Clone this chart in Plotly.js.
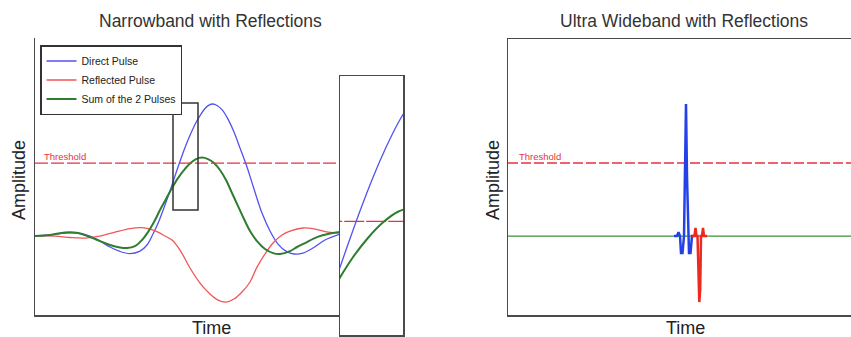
<!DOCTYPE html>
<html>
<head>
<meta charset="utf-8">
<script src="https://cdn.plot.ly/plotly-3.0.1.min.js"></script>
<style>html,body{margin:0;padding:0;background:#fff;}#chart{width:851px;height:337px;}</style>
</head>
<body>
<div id="chart"></div>
<script>
// ---------- Narrowband (left panel) ----------
const nbBlueT  = [0, 15, 30, 43, 55, 65, 75, 85, 95, 105, 112, 118, 124, 130, 136, 141, 146, 151, 156, 161, 166, 170, 174, 178, 182, 187, 193, 199, 205, 212, 219, 227, 235, 243, 251, 259, 268, 278, 290, 305];
const nbBlueA  = [0, 0.008, 0.023, 0.023, 0, -0.038, -0.083, -0.117, -0.133, -0.114, -0.068, 0.015, 0.114, 0.235, 0.364, 0.477, 0.587, 0.689, 0.780, 0.860, 0.924, 0.966, 0.992, 1.0, 0.989, 0.958, 0.886, 0.788, 0.667, 0.523, 0.356, 0.174, 0.038, -0.061, -0.114, -0.136, -0.129, -0.091, -0.030, 0.015];

const nbRedT   = [0, 20, 35, 50, 65, 80, 95, 107, 115, 123, 130, 137, 145, 155, 165, 175, 183, 191, 199, 207, 215, 222, 230, 238, 247, 255, 268, 280, 293, 305];
const nbRedA   = [0, 0, -0.011, -0.015, 0, 0.030, 0.057, 0.064, 0.053, 0.030, 0, -0.030, -0.106, -0.242, -0.356, -0.439, -0.485, -0.5, -0.477, -0.424, -0.348, -0.235, -0.136, -0.053, 0.008, 0.038, 0.061, 0.053, 0.030, 0.023];

const nbSumT   = [0, 15, 30, 43, 55, 65, 75, 85, 92, 100, 107, 113, 119, 125, 131, 137, 143, 149, 155, 161, 167, 173, 179, 185, 191, 197, 203, 209, 215, 222, 230, 238, 245, 255, 262, 270, 282, 293, 305];
const nbSumA   = [0, 0.008, 0.027, 0.023, -0.008, -0.038, -0.068, -0.087, -0.091, -0.076, -0.030, 0.030, 0.106, 0.197, 0.280, 0.364, 0.439, 0.500, 0.549, 0.583, 0.595, 0.583, 0.553, 0.500, 0.424, 0.326, 0.227, 0.129, 0.038, -0.038, -0.098, -0.129, -0.136, -0.114, -0.083, -0.053, -0.008, 0.015, 0.030];

const nbThreshT = [0, 305];
const nbThreshA = [0.553, 0.553];

// zoom window (small rectangle / magnified inset)
const zoomT = [138, 163];
const zoomA = [0.197, 1.008];

// ---------- Ultra wideband (right panel) ----------
const uwbSumT  = [0, 104, 105, 287, 288, 343];
const uwbSumA  = [0, 0, 0.005, 0.005, 0, 0];

const uwbBlueT = [166, 169, 170.5, 172, 173, 174.5, 176, 177, 178, 179, 180, 181, 182.5, 184, 186];
const uwbBlueA = [0, 0, 0.03, 0, -0.129, -0.129, 0, 0.45, 1.0, 0.45, 0, -0.129, -0.129, 0, 0];

const uwbRedT  = [184, 186.5, 187.5, 188.5, 189.5, 190.5, 191.3, 192.2, 193, 194, 195, 196, 199];
const uwbRedA  = [0, 0, 0.061, 0, 0, -0.409, -0.5, -0.409, 0, 0, 0.061, 0, 0];

const uwbThreshT = [0, 343];
const uwbThreshA = [0.553, 0.553];

const seriesNames = ['Direct Pulse', 'Reflected Pulse', 'Sum of the 2 Pulses'];
const panelTitles = ['Narrowband with Reflections', 'Ultra Wideband with Reflections'];

const FONT = 'Liberation Sans, Arial, sans-serif';
const cBlue = '#5252f2', cRed = '#f25555', cGreen = '#2f7d2f', cThr = '#e8323c';
const cBlue2 = '#2341e6', cRed2 = '#ec2a22', cGreen2 = '#3a913a';

const traces = [
  {x: nbBlueT, y: nbBlueA, name: seriesNames[0], mode: 'lines', line: {color: cBlue, width: 1.3, shape: 'spline'}, xaxis: 'x', yaxis: 'y'},
  {x: nbRedT, y: nbRedA, name: seriesNames[1], mode: 'lines', line: {color: cRed, width: 1.3, shape: 'spline'}, xaxis: 'x', yaxis: 'y'},
  {x: nbSumT, y: nbSumA, name: seriesNames[2], mode: 'lines', line: {color: cGreen, width: 2, shape: 'spline'}, xaxis: 'x', yaxis: 'y'},
  {x: nbThreshT, y: nbThreshA, mode: 'lines', showlegend: false, line: {color: cThr, width: 1.3, dash: '13px,3px'}, xaxis: 'x', yaxis: 'y'},
  // inset (magnified view of the rectangle)
  {x: nbThreshT, y: nbThreshA, mode: 'lines', showlegend: false, line: {color: cThr, width: 1.3, dash: '20px,2px'}, xaxis: 'x3', yaxis: 'y3'},
  {x: nbBlueT, y: nbBlueA, mode: 'lines', showlegend: false, line: {color: cBlue, width: 1.3, shape: 'spline'}, xaxis: 'x3', yaxis: 'y3'},
  {x: nbSumT, y: nbSumA, mode: 'lines', showlegend: false, line: {color: cGreen, width: 2, shape: 'spline'}, xaxis: 'x3', yaxis: 'y3'},
  // UWB
  {x: uwbThreshT, y: uwbThreshA, mode: 'lines', showlegend: false, line: {color: cThr, width: 1.3, dash: '10px,3px'}, xaxis: 'x2', yaxis: 'y2'},
  {x: uwbSumT, y: uwbSumA, mode: 'lines', showlegend: false, line: {color: cGreen2, width: 1.2}, xaxis: 'x2', yaxis: 'y2'},
  {x: uwbBlueT, y: uwbBlueA, mode: 'lines', showlegend: false, line: {color: cBlue2, width: 2.5}, xaxis: 'x2', yaxis: 'y2'},
  {x: uwbRedT, y: uwbRedA, mode: 'lines', showlegend: false, line: {color: cRed2, width: 2.5}, xaxis: 'x2', yaxis: 'y2'}
];

const W = 851, H = 337;
const px = v => v / W, py = v => 1 - v / H;
const axLine = '#4a4a4a';
const bareAx = {showgrid: false, zeroline: false, showticklabels: false, ticks: '', fixedrange: true};

const layout = {
  width: W, height: H,
  margin: {l: 0, r: 0, t: 0, b: 0},
  paper_bgcolor: '#fff', plot_bgcolor: '#fff',
  hovermode: false,
  font: {family: FONT, color: '#333'},
  showlegend: true,
  legend: {x: px(40), y: py(45), xanchor: 'left', yanchor: 'top', bgcolor: '#fff',
           bordercolor: '#333', borderwidth: 1.5, font: {size: 10.5, family: FONT, color: '#222'},
           tracegroupgap: 0, itemwidth: 30},
  xaxis:  Object.assign({}, bareAx, {domain: [px(35), px(340)], range: [0, 305], showline: true, linecolor: axLine, linewidth: 1.5}),
  yaxis:  Object.assign({}, bareAx, {domain: [py(315), py(38)], range: [-0.598, 1.5], showline: true, linecolor: axLine, linewidth: 1.5}),
  xaxis2: Object.assign({}, bareAx, {domain: [px(508), 1], range: [0, 343], showline: true, mirror: true, linecolor: axLine, linewidth: 1.5, anchor: 'y2'}),
  yaxis2: Object.assign({}, bareAx, {domain: [py(315), py(39)], range: [-0.598, 1.492], showline: true, linecolor: axLine, linewidth: 1.5, anchor: 'x2'}),
  xaxis3: Object.assign({}, bareAx, {domain: [px(340), px(403)], range: zoomT, showline: true, mirror: true, linecolor: axLine, linewidth: 1.5, anchor: 'y3'}),
  yaxis3: Object.assign({}, bareAx, {domain: [py(335), py(76)], range: zoomA, showline: true, mirror: true, linecolor: axLine, linewidth: 1.5, anchor: 'x3'}),
  shapes: [
    {type: 'rect', xref: 'x', yref: 'y', x0: zoomT[0], x1: zoomT[1], y0: zoomA[0], y1: zoomA[1],
     line: {color: '#333', width: 1.5}, fillcolor: 'rgba(0,0,0,0)'}
  ],
  annotations: [
    {text: panelTitles[0], xref: 'paper', yref: 'paper', x: px(210), y: py(21), xanchor: 'center', yanchor: 'middle', showarrow: false, font: {size: 17.5, color: '#333'}},
    {text: panelTitles[1], xref: 'paper', yref: 'paper', x: px(684), y: py(21), xanchor: 'center', yanchor: 'middle', showarrow: false, font: {size: 17.5, color: '#333'}},
    {text: 'Amplitude', xref: 'paper', yref: 'paper', x: px(19), y: py(180), xanchor: 'center', yanchor: 'middle', textangle: -90, showarrow: false, font: {size: 18, color: '#222'}},
    {text: 'Amplitude', xref: 'paper', yref: 'paper', x: px(493), y: py(180), xanchor: 'center', yanchor: 'middle', textangle: -90, showarrow: false, font: {size: 18, color: '#222'}},
    {text: 'Time', xref: 'paper', yref: 'paper', x: px(211), y: 0, xanchor: 'center', yanchor: 'bottom', yshift: -3, showarrow: false, font: {size: 18, color: '#222'}},
    {text: 'Time', xref: 'paper', yref: 'paper', x: px(685), y: 0, xanchor: 'center', yanchor: 'bottom', yshift: -3, showarrow: false, font: {size: 18, color: '#222'}},
    {text: 'Threshold', xref: 'x', yref: 'y', x: 7, y: nbThreshA[0], xanchor: 'left', yanchor: 'bottom', yshift: -1, showarrow: false, font: {size: 9.5, color: cThr}},
    {text: 'Threshold', xref: 'x2', yref: 'y2', x: 9, y: uwbThreshA[0], xanchor: 'left', yanchor: 'bottom', yshift: -1, showarrow: false, font: {size: 9.5, color: cThr}}
  ]
};

Plotly.newPlot('chart', traces, layout, {staticPlot: true, displayModeBar: false});
</script>
</body>
</html>
